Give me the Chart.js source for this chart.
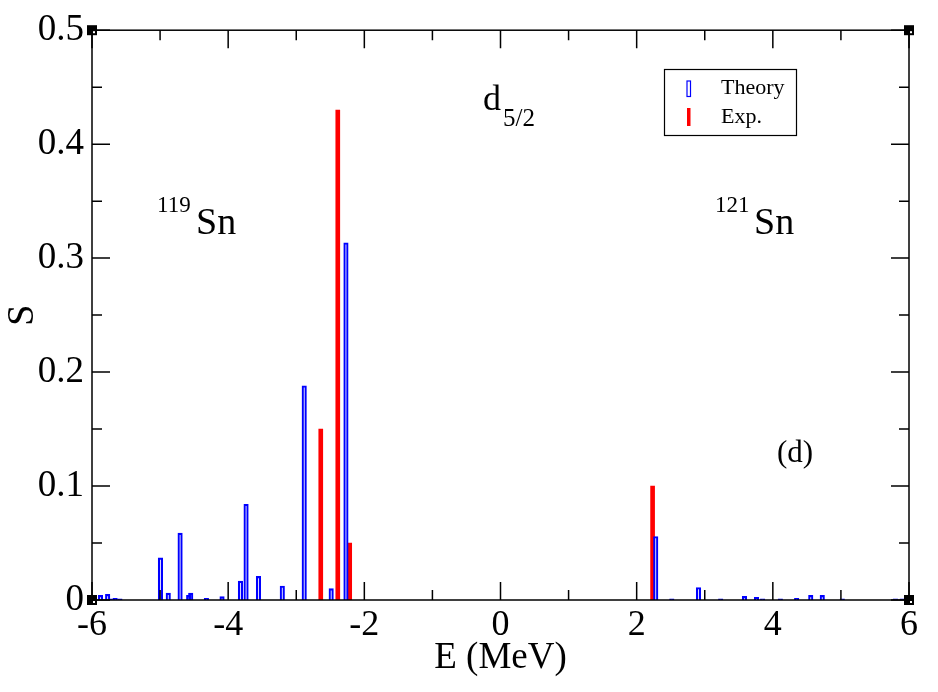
<!DOCTYPE html>
<html>
<head>
<meta charset="utf-8">
<script src="https://cdn.jsdelivr.net/npm/chart.js@4.4.1/dist/chart.umd.min.js"></script>
<style>
  body { margin: 0; background: #fff; }
  canvas { display: block; }
</style>
</head>
<body>
<canvas id="chart" width="938" height="692"></canvas>
<script>
// theory strengths (open blue bars)
var theoryE = [-5.875, -5.77, -5.70, -5.66, -5.59, -4.995, -4.88, -4.706, -4.58, -4.55,
               -4.32, -4.09, -3.82, -3.737, -3.555, -3.205, -2.883, -2.487, -2.27,
               2.28, 2.516, 2.908, 3.234, 3.583, 3.76, 3.85, 4.11, 4.35, 4.557, 4.726,
               5.02, 5.80, 5.90];
var theoryS = [0.004, 0.005, 0.001, 0.0015, 0.001, 0.037, 0.006, 0.0587, 0.004, 0.006,
               0.0015, 0.003, 0.0166, 0.084, 0.0207, 0.0123, 0.188, 0.010, 0.3135,
               0.0557, 0.001, 0.011, 0.001, 0.0032, 0.0024, 0.001, 0.001, 0.0015, 0.004, 0.004,
               0.001, 0.001, 0.001];
// experiment (filled red bars)
var expE = [-2.64, -2.39, -2.215, 2.234];
var expS = [0.15, 0.43, 0.05, 0.1];

var xTicks = [-6, -4, -2, 0, 2, 4, 6];
var xMinor = [-5, -3, -1, 1, 3, 5];
var yTicks = [0, 0.1, 0.2, 0.3, 0.4, 0.5];
var yMinor = [0.05, 0.15, 0.25, 0.35, 0.45];

var serif = "'Liberation Serif', 'DejaVu Serif', serif";

function pts(xs, ys) {
    var out = [];
    for (var i = 0; i < xs.length; i++) out.push({ x: xs[i], y: ys[i] });
    return out;
}

// frame, inward ticks, corner squares, labels and legend like xmgrace
var gracePlugin = {
    id: 'grace',
    afterDraw: function (chart) {
        var c = chart.ctx, a = chart.chartArea;
        var xs = chart.scales.x, ys = chart.scales.y;
        c.save();
        c.strokeStyle = '#000';
        c.lineWidth = 1.5;
        c.strokeRect(a.left, a.top, a.right - a.left, a.bottom - a.top);

        function xt(v, len) {
            var p = xs.getPixelForValue(v);
            c.beginPath();
            c.moveTo(p, a.bottom); c.lineTo(p, a.bottom - len);
            c.moveTo(p, a.top); c.lineTo(p, a.top + len);
            c.stroke();
        }
        function yt(v, len) {
            var p = ys.getPixelForValue(v);
            c.beginPath();
            c.moveTo(a.left, p); c.lineTo(a.left + len, p);
            c.moveTo(a.right, p); c.lineTo(a.right - len, p);
            c.stroke();
        }
        xTicks.forEach(function (v) { xt(v, 18); });
        xMinor.forEach(function (v) { xt(v, 10); });
        yTicks.forEach(function (v) { yt(v, 18); });
        yMinor.forEach(function (v) { yt(v, 10); });

        var corners = [[a.left, a.top], [a.right, a.top], [a.left, a.bottom], [a.right, a.bottom]];
        c.fillStyle = '#000';
        corners.forEach(function (p) { c.fillRect(p[0] - 5, p[1] - 5, 10, 10); });
        c.fillStyle = '#fff';
        corners.forEach(function (p) { c.fillRect(p[0] + 1, p[1] + 1, 2, 2); });

        // annotations
        c.fillStyle = '#000';
        c.textBaseline = 'alphabetic';
        c.textAlign = 'left';
        c.font = '36px ' + serif;
        c.fillText('d', 483, 110);
        c.font = '25px ' + serif;
        c.fillText('5/2', 503, 126);

        c.font = '23px ' + serif;
        c.fillText('119', 157, 212);
        c.font = '38px ' + serif;
        c.fillText('Sn', 196, 234);

        c.font = '23px ' + serif;
        c.fillText('121', 715, 212);
        c.font = '38px ' + serif;
        c.fillText('Sn', 754, 234);

        c.font = '31px ' + serif;
        c.fillText('(d)', 777, 462);

        // legend
        c.strokeStyle = '#000';
        c.lineWidth = 1.2;
        c.strokeRect(664.5, 69.5, 132, 66);
        c.strokeStyle = '#0000ff';
        c.strokeRect(687, 81, 3.5, 15.5);
        c.fillStyle = '#ff0000';
        c.fillRect(687, 108, 3.5, 18);
        c.fillStyle = '#000';
        c.font = '22px ' + serif;
        c.fillText('Theory', 721, 94);
        c.fillText('Exp.', 721, 123);
        c.restore();
    }
};

var ctx = document.getElementById('chart').getContext('2d');
var chart = new Chart(ctx, {
    type: 'bar',
    data: {
        datasets: [
            {
                label: 'Exp.',
                data: pts(expE, expS),
                backgroundColor: '#ff0000',
                borderWidth: 0,
                barThickness: 4,
                order: 2
            },
            {
                label: 'Theory',
                data: pts(theoryE, theoryS),
                backgroundColor: 'rgba(255,255,255,0)',
                borderColor: '#0000ff',
                borderWidth: 1.5,
                barThickness: 4.5,
                order: 1
            }
        ]
    },
    options: {
        responsive: false,
        animation: false,
        devicePixelRatio: 1,
        grouped: false,
        layout: { padding: { top: 28, right: 29, left: 0, bottom: 0 } },
        plugins: {
            legend: { display: false },
            tooltip: { enabled: false }
        },
        scales: {
            x: {
                type: 'linear',
                min: -6, max: 6,
                offset: false,
                grid: { display: false, drawTicks: false },
                border: { display: false },
                ticks: {
                    stepSize: 2,
                    padding: 4,
                    color: '#000',
                    maxRotation: 0,
                    font: { family: serif, size: 36 }
                },
                title: {
                    display: true,
                    text: 'E (MeV)',
                    color: '#000',
                    padding: { top: 0, bottom: 12 },
                    font: { family: serif, size: 37 }
                },
                afterFit: function (s) { s.height = 92; }
            },
            y: {
                min: 0, max: 0.5,
                grid: { display: false, drawTicks: false },
                border: { display: false },
                ticks: {
                    stepSize: 0.1,
                    padding: 8,
                    color: '#000',
                    font: { family: serif, size: 37 }
                },
                title: {
                    display: true,
                    text: 'S',
                    color: '#000',
                    padding: { top: 0, bottom: 0 },
                    font: { family: serif, size: 38 }
                },
                afterFit: function (s) { s.width = 92; }
            }
        }
    },
    plugins: [gracePlugin]
});
</script>
</body>
</html>
